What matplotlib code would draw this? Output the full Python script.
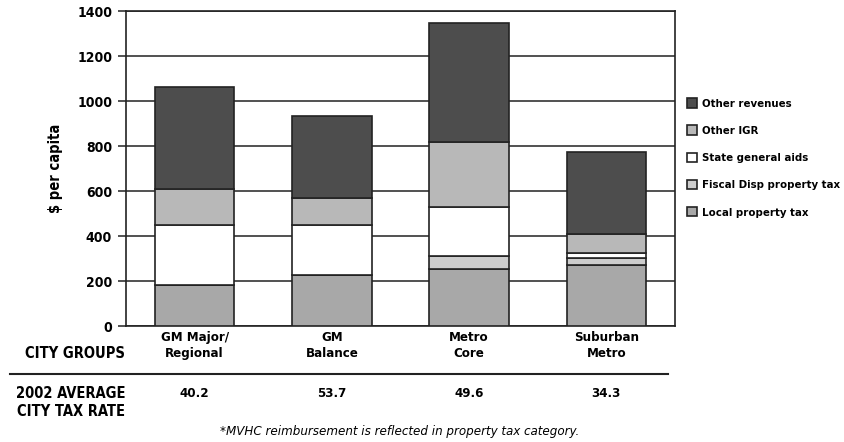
import matplotlib
matplotlib.use("Agg")
import matplotlib.pyplot as plt
from matplotlib import font_manager

# pick a narrow font if one is installed, else condensed DejaVu
names = {f.name for f in font_manager.fontManager.ttflist}
NARROW = "Liberation Sans Narrow" if "Liberation Sans Narrow" in names else "DejaVu Sans"
plt.rcParams["font.family"] = [NARROW, "DejaVu Sans"]
plt.rcParams["font.stretch"] = "condensed"

groups = ["GM Major/\nRegional", "GM\nBalance", "Metro\nCore", "Suburban\nMetro"]
tax_rates = ["40.2", "53.7", "49.6", "34.3"]

local_prop = [182, 225, 252, 272]
fiscal_disp = [0, 0, 61, 29]
state_aids = [267, 224, 214, 22]
other_igr = [160, 120, 292, 86]
other_rev = [455, 364, 526, 366]

series = [
    ("Local property tax", local_prop, "#a8a8a8"),
    ("Fiscal Disp property tax", fiscal_disp, "#cdcdcd"),
    ("State general aids", state_aids, "#ffffff"),
    ("Other IGR", other_igr, "#b8b8b8"),
    ("Other revenues", other_rev, "#4d4d4d"),
]

fig = plt.figure(figsize=(8.44, 4.42), dpi=100)
ax = fig.add_axes([0.1493, 0.2624, 0.6505, 0.7126])

x = list(range(len(groups)))
bottom = [0] * len(groups)
handles = []
for label, vals, color in series:
    h = ax.bar(x, vals, 0.58, bottom=bottom, color=color, edgecolor="#222222",
               linewidth=1.2, label=label, zorder=3)
    handles.append(h)
    bottom = [b + v for b, v in zip(bottom, vals)]

ax.set_xlim(-0.5, 3.5)
ax.set_ylim(0, 1400)
ax.set_yticks(range(0, 1401, 200))
ax.yaxis.grid(True, color="#222222", linewidth=1.1, zorder=0)
ax.set_axisbelow(True)
ax.set_xticks([])
for s in ax.spines.values():
    s.set_color("#222222")
    s.set_linewidth(1.2)
ax.tick_params(axis="y", length=6, width=1.1, color="#222222", pad=4)
for t in ax.get_yticklabels():
    t.set_fontweight("bold")
    t.set_fontsize(10)
ax.set_ylabel("$ per capita", fontsize=10.5, fontweight="bold", labelpad=10)

leg = fig.legend(handles[::-1], [s[0] for s in series][::-1], loc="upper left",
                 bbox_to_anchor=(0.808, 0.788), frameon=False,
                 prop=dict(size=8.2, weight="bold", stretch="condensed"),
                 handlelength=0.9, handleheight=0.9, handletextpad=0.5,
                 labelspacing=1.45, borderaxespad=0)

# table below the chart
trans = ax.get_xaxis_transform()
for i, g in enumerate(groups):
    ax.text(i, -0.015, g, transform=trans, ha="center", va="top",
            fontsize=9.5, fontweight="bold", linespacing=1.3)
for i, r in enumerate(tax_rates):
    ax.text(i, (326 - 393) / 315, r, transform=trans, ha="center", va="center",
            fontsize=9.5, fontweight="bold")

fig.text(125 / 844, 1 - 354 / 442, "CITY GROUPS", ha="right", va="center",
         fontsize=10.5, fontweight="bold")
fig.text(125 / 844, 1 - 402 / 442, "2002 AVERAGE\nCITY TAX RATE",
         ha="right", va="center", fontsize=10.5, fontweight="bold", linespacing=1.25)
fig.add_artist(plt.Line2D([10 / 844, 668 / 844], [1 - 374 / 442, 1 - 374 / 442],
                          color="#222222", linewidth=1.5))
fig.text(400 / 844, 1 - 432 / 442,
         "*MVHC reimbursement is reflected in property tax category.",
         ha="center", va="center", fontsize=9.5, style="italic")

fig.savefig("out.png", dpi=100)
